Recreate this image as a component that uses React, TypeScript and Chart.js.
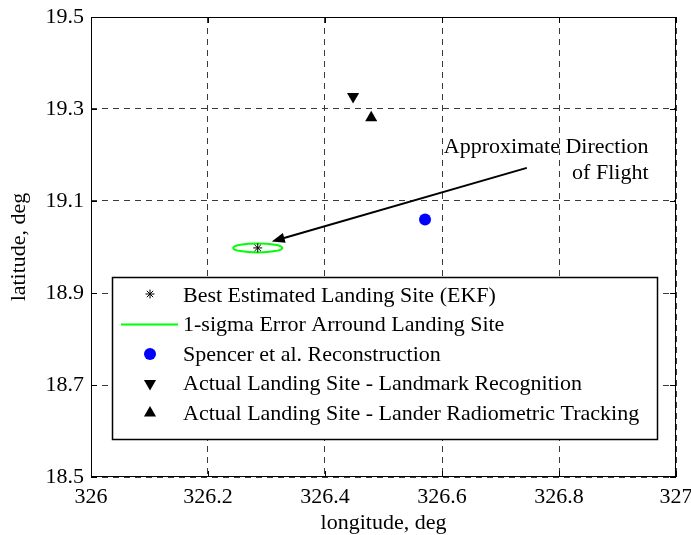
import React, { useEffect, useRef } from 'react';
import { Chart, registerables } from 'chart.js';

Chart.register(...registerables);

// ---- data ----
const xTicks = [326, 326.2, 326.4, 326.6, 326.8, 327];
const xTickLabels = ['326', '326.2', '326.4', '326.6', '326.8', '327'];
const yTicks = [18.5, 18.7, 18.9, 19.1, 19.3, 19.5];
const yTickLabels = ['18.5', '18.7', '18.9', '19.1', '19.3', '19.5'];

const ekfLon = [326.285];
const ekfLat = [18.998];
const sigmaLon = [0.042]; // 1-sigma semi-axis in longitude
const sigmaLat = [0.0098]; // 1-sigma semi-axis in latitude
const spencerLon = [326.571];
const spencerLat = [19.06];
const landmarkLon = [326.448];
const landmarkLat = [19.327];
const radiometricLon = [326.479];
const radiometricLat = [19.281];

const arrowFrom = [326.745, 19.172];
const arrowTo = [326.309, 19.012];
const noteAnchor = [326.953, 19.218];
const noteLines = ['Approximate Direction', 'of Flight'];

const legendLabels = [
  'Best Estimated Landing Site (EKF)',
  '1-sigma Error Arround Landing Site',
  'Spencer et al. Reconstruction',
  'Actual Landing Site - Landmark Recognition',
  'Actual Landing Site - Lander Radiometric Tracking',
];

const FONT = '"Liberation Serif", "Times New Roman", Times, serif';
const FS = 22;

function pts(xs: number[], ys: number[]) {
  return xs.map((x, i) => ({ x, y: ys[i] }));
}

function drawStar(ctx: CanvasRenderingContext2D, x: number, y: number, r: number) {
  ctx.beginPath();
  ctx.moveTo(x - r, y); ctx.lineTo(x + r, y);
  ctx.moveTo(x, y - r); ctx.lineTo(x, y + r);
  const d = r * 0.7071;
  ctx.moveTo(x - d, y - d); ctx.lineTo(x + d, y + d);
  ctx.moveTo(x - d, y + d); ctx.lineTo(x + d, y - d);
  ctx.stroke();
}

function drawTri(ctx: CanvasRenderingContext2D, x: number, y: number, r: number, down: boolean) {
  const s = down ? -1 : 1;
  ctx.beginPath();
  ctx.moveTo(x, y - s * r);
  ctx.lineTo(x + r * 0.866, y + s * r * 0.5);
  ctx.lineTo(x - r * 0.866, y + s * r * 0.5);
  ctx.closePath();
  ctx.fill();
}

const overlayPlugin = {
  id: 'overlay',
  beforeDatasetsDraw(chart: any) {
    const { ctx, chartArea: ca, scales } = chart;
    const xs = scales.x, ys = scales.y;
    ctx.save();
    ctx.strokeStyle = '#000';
    ctx.lineWidth = 1;
    ctx.strokeRect(ca.left + 0.5, ca.top + 0.5, ca.right - ca.left - 1, ca.bottom - ca.top - 1);
    const tl = 6;
    ctx.beginPath();
    xTicks.forEach((v) => {
      const px = Math.round(xs.getPixelForValue(v)) + 0.5;
      ctx.moveTo(px, ca.bottom); ctx.lineTo(px, ca.bottom - tl);
      ctx.moveTo(px, ca.top); ctx.lineTo(px, ca.top + tl);
    });
    yTicks.forEach((v) => {
      const py = Math.round(ys.getPixelForValue(v)) + 0.5;
      ctx.moveTo(ca.left, py); ctx.lineTo(ca.left + tl, py);
      ctx.moveTo(ca.right, py); ctx.lineTo(ca.right - tl, py);
    });
    ctx.stroke();
    ctx.restore();
  },
  afterDatasetsDraw(chart: any) {
    const { ctx, scales } = chart;
    const xs = scales.x, ys = scales.y;
    ctx.save();
    // 1-sigma ellipse
    const cx = xs.getPixelForValue(ekfLon[0]);
    const cy = ys.getPixelForValue(ekfLat[0]);
    const rx = Math.abs(xs.getPixelForValue(ekfLon[0] + sigmaLon[0]) - cx);
    const ry = Math.abs(ys.getPixelForValue(ekfLat[0] + sigmaLat[0]) - cy);
    ctx.strokeStyle = '#00ff00';
    ctx.lineWidth = 2;
    ctx.beginPath();
    ctx.ellipse(cx, cy, rx, ry, 0, 0, Math.PI * 2);
    ctx.stroke();
    ctx.strokeStyle = '#000';
    ctx.lineWidth = 1;
    drawStar(ctx, cx, cy, 4.5);

    // arrow
    const x1 = xs.getPixelForValue(arrowFrom[0]);
    const y1 = ys.getPixelForValue(arrowFrom[1]);
    const x2 = xs.getPixelForValue(arrowTo[0]);
    const y2 = ys.getPixelForValue(arrowTo[1]);
    const ang = Math.atan2(y2 - y1, x2 - x1);
    const hl = 13, hw = 5;
    const bx = x2 - Math.cos(ang) * hl;
    const by = y2 - Math.sin(ang) * hl;
    ctx.strokeStyle = '#000';
    ctx.lineWidth = 2;
    ctx.beginPath();
    ctx.moveTo(x1, y1);
    ctx.lineTo(bx + Math.cos(ang) * 2, by + Math.sin(ang) * 2);
    ctx.stroke();
    ctx.fillStyle = '#000';
    ctx.beginPath();
    ctx.moveTo(x2, y2);
    ctx.lineTo(bx - Math.sin(ang) * hw, by + Math.cos(ang) * hw);
    ctx.lineTo(bx + Math.sin(ang) * hw, by - Math.cos(ang) * hw);
    ctx.closePath();
    ctx.fill();

    // annotation
    const tx = xs.getPixelForValue(noteAnchor[0]);
    const ty = ys.getPixelForValue(noteAnchor[1]);
    ctx.font = `${FS}px ${FONT}`;
    ctx.textAlign = 'right';
    ctx.textBaseline = 'middle';
    ctx.fillStyle = '#000';
    noteLines.forEach((t, i) => ctx.fillText(t, tx, ty + i * 26));
    ctx.restore();
  },
  afterDraw(chart: any) {
    const { ctx, chartArea: ca } = chart;
    ctx.save();
    const L = ca.left + 21;
    const T = ca.top + 260;
    const W = 545;
    const H = 162;
    ctx.fillStyle = '#fff';
    ctx.fillRect(L, T, W, H);
    ctx.strokeStyle = '#000';
    ctx.lineWidth = 1.5;
    ctx.strokeRect(L + 0.5, T + 0.5, W, H);
    const symX = L + 38;
    const textX = L + 71;
    ctx.font = `${FS}px ${FONT}`;
    ctx.textAlign = 'left';
    ctx.textBaseline = 'middle';
    legendLabels.forEach((label, i) => {
      const y = T + 18 + i * 29.5;
      if (i === 0) {
        ctx.strokeStyle = '#000';
        ctx.lineWidth = 1;
        drawStar(ctx, symX, y - 1, 4.5);
      } else if (i === 1) {
        ctx.strokeStyle = '#00ff00';
        ctx.lineWidth = 2;
        ctx.beginPath();
        ctx.moveTo(L + 9, y);
        ctx.lineTo(L + 66, y);
        ctx.stroke();
      } else if (i === 2) {
        ctx.fillStyle = '#0000ff';
        ctx.beginPath();
        ctx.arc(symX, y, 6, 0, Math.PI * 2);
        ctx.fill();
      } else if (i === 3) {
        ctx.fillStyle = '#000';
        drawTri(ctx, symX, y, 7, true);
      } else {
        ctx.fillStyle = '#000';
        drawTri(ctx, symX, y, 7, false);
      }
      ctx.fillStyle = '#000';
      ctx.fillText(label, textX, y + 1);
    });
    ctx.restore();
  },
};

export default function App() {
  const ref = useRef<HTMLCanvasElement | null>(null);
  useEffect(() => {
    if (!ref.current) return;
    const chart = new Chart(ref.current, {
      type: 'scatter',
      data: {
        datasets: [
          {
            label: legendLabels[2],
            data: pts(spencerLon, spencerLat),
            pointStyle: 'circle',
            pointRadius: 6,
            backgroundColor: '#0000ff',
            borderColor: '#0000ff',
            borderWidth: 0,
          },
          {
            label: legendLabels[3],
            data: pts(landmarkLon, landmarkLat),
            pointStyle: 'triangle',
            rotation: 180,
            pointRadius: 7,
            backgroundColor: '#000',
            borderColor: '#000',
            borderWidth: 0,
          },
          {
            label: legendLabels[4],
            data: pts(radiometricLon, radiometricLat),
            pointStyle: 'triangle',
            pointRadius: 7,
            backgroundColor: '#000',
            borderColor: '#000',
            borderWidth: 0,
          },
        ],
      },
      options: {
        animation: false,
        responsive: false,
        events: [],
        layout: { padding: { top: 17, right: 15, left: 0, bottom: 0 } },
        plugins: { legend: { display: false }, tooltip: { enabled: false } },
        scales: {
          x: {
            type: 'linear',
            min: 326,
            max: 327,
            afterBuildTicks: (s: any) => {
              s.ticks = xTicks.map((v) => ({ value: v }));
            },
            afterFit: (s: any) => {
              s.height = 58;
              s.paddingLeft = 0;
              s.paddingRight = 0;
            },
            ticks: {
              autoSkip: false,
              maxRotation: 0,
              padding: 7,
              color: '#000',
              font: { family: FONT, size: FS },
              callback: (v: any) => {
                const i = xTicks.findIndex((t) => Math.abs(t - Number(v)) < 1e-9);
                return i >= 0 ? xTickLabels[i] : '';
              },
            },
            grid: { color: '#3a3a3a', lineWidth: 1, drawTicks: false },
            border: { display: false, dash: [6, 5] },
            title: {
              display: true,
              text: 'longitude, deg',
              color: '#000',
              font: { family: FONT, size: FS },
              padding: { top: 0, bottom: -1 },
            },
          },
          y: {
            type: 'linear',
            min: 18.5,
            max: 19.5,
            afterBuildTicks: (s: any) => {
              s.ticks = yTicks.map((v) => ({ value: v }));
            },
            afterFit: (s: any) => {
              s.width = 91;
              s.paddingTop = 0;
              s.paddingBottom = 0;
            },
            ticks: {
              autoSkip: false,
              padding: 7,
              color: '#000',
              font: { family: FONT, size: FS },
              callback: (v: any) => {
                const i = yTicks.findIndex((t) => Math.abs(t - Number(v)) < 1e-9);
                return i >= 0 ? yTickLabels[i] : '';
              },
            },
            grid: { color: '#3a3a3a', lineWidth: 1, drawTicks: false },
            border: { display: false, dash: [6, 5] },
            title: {
              display: true,
              text: 'latitude, deg',
              color: '#000',
              font: { family: FONT, size: FS },
              padding: { top: 6, bottom: 0 },
            },
          },
        },
      },
      plugins: [overlayPlugin],
    });
    return () => chart.destroy();
  }, []);
  return (
    <div style={{ position: 'absolute', left: 0, top: 0, width: 691, height: 535, background: '#fff' }}>
      <canvas ref={ref} width={691} height={535} />
    </div>
  );
}
